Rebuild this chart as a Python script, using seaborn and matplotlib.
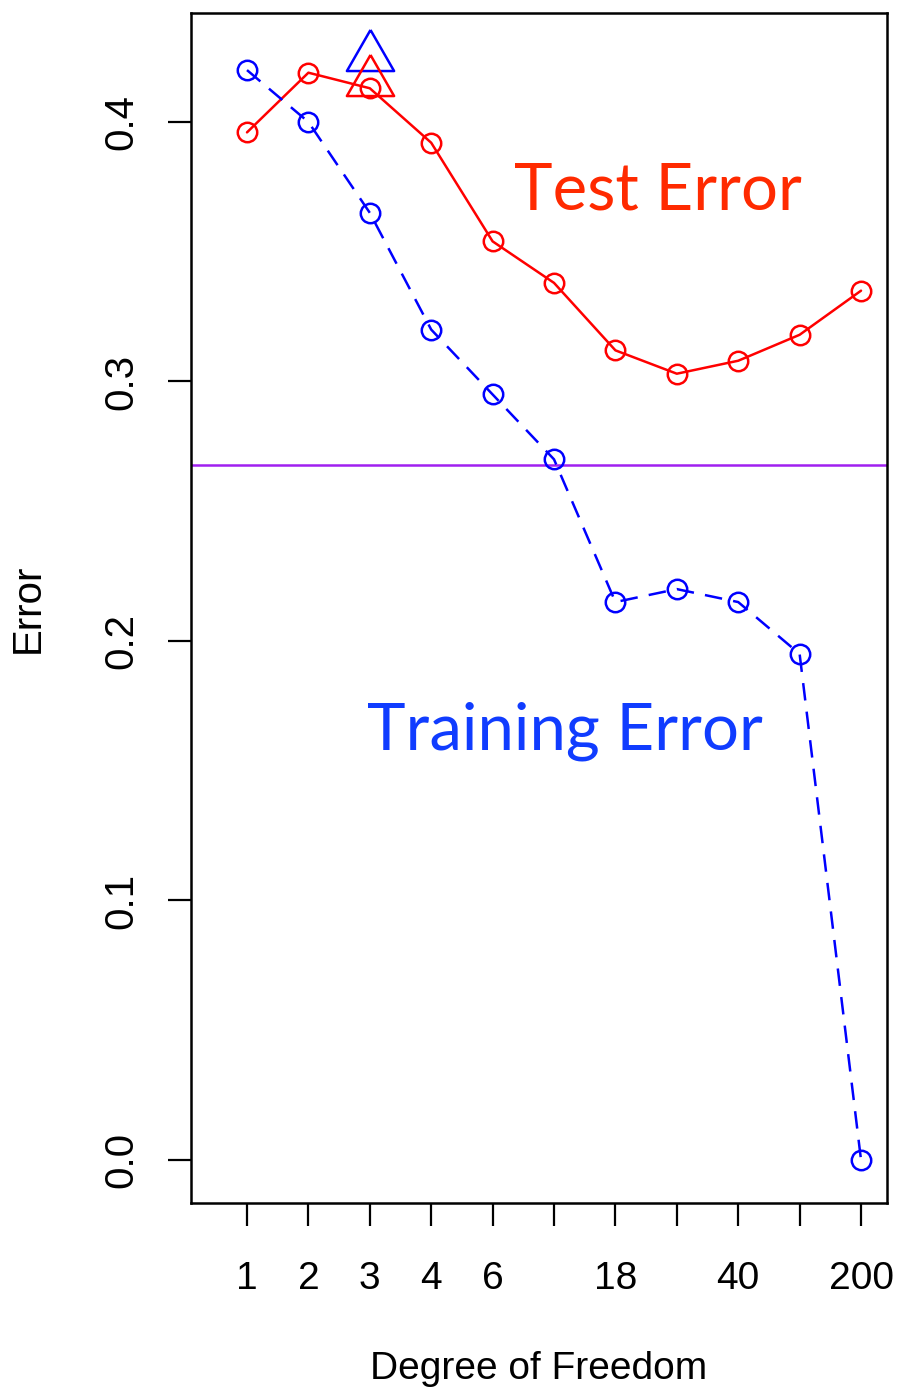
import numpy as np
import pandas as pd
import matplotlib
matplotlib.use("Agg")
import matplotlib.pyplot as plt
import seaborn as sns

# ---- data ----
positions = [1, 2, 3, 4, 5, 6, 7, 8, 9, 10, 11]
tick_labels = ["1", "2", "3", "4", "6", "", "18", "", "40", "", "200"]
test_error = [0.396, 0.419, 0.413, 0.392, 0.354, 0.338, 0.312, 0.303, 0.308, 0.318, 0.335]
train_error = [0.420, 0.400, 0.365, 0.320, 0.295, 0.270, 0.215, 0.220, 0.215, 0.195, 0.000]
best_pos = 3
best_train_marker = 0.4277
best_test_marker = 0.418
hline_value = 0.268
y_ticks = [0.0, 0.1, 0.2, 0.3, 0.4]

df = pd.DataFrame({"pos": positions, "test": test_error, "train": train_error})

sns.set_style("white")
plt.rcParams["font.family"] = ["Liberation Sans", "DejaVu Sans"]
plt.rcParams["text.color"] = "black"
plt.rcParams["axes.labelcolor"] = "black"
plt.rcParams["xtick.color"] = "black"
plt.rcParams["ytick.color"] = "black"

fig = plt.figure(figsize=(8.99, 13.90), dpi=100)
ax = fig.add_axes([191 / 899, 1 - 1203 / 1390, (887 - 191) / 899, (1203 - 13) / 1390])

ax.axhline(hline_value, color="#A020F0", lw=1.8, zorder=1)

sns.lineplot(data=df, x="pos", y="test", ax=ax, color="red", lw=1.8,
             marker="o", markersize=14, markerfacecolor="none",
             markeredgecolor="red", markeredgewidth=1.8, zorder=3)
sns.lineplot(data=df, x="pos", y="train", ax=ax, color="blue", lw=1.8,
             linestyle=(0, (7, 4.5)),
             marker="o", markersize=14, markerfacecolor="none",
             markeredgecolor="blue", markeredgewidth=1.8, zorder=3)

tri = [(0, 0.87), (-1, -0.87), (1, -0.87), (0, 0.87)]
ax.plot([best_pos], [best_train_marker], marker=tri, markersize=34,
        markerfacecolor="none", markeredgecolor="blue", markeredgewidth=1.8,
        linestyle="none", zorder=4)
ax.plot([best_pos], [best_test_marker], marker=tri, markersize=34,
        markerfacecolor="none", markeredgecolor="red", markeredgewidth=1.8,
        linestyle="none", zorder=4)

ax.text(7.70, 0.3661, "Test Error", color="#FF2A00", fontsize=47,
        family=["Lato", "DejaVu Sans"], ha="center", va="baseline")
ax.text(6.18, 0.1580, "Training Error", color="#103CFF", fontsize=47,
        family=["Lato", "DejaVu Sans"], ha="center", va="baseline")

ax.set_xlim(0.088, 11.423)
ax.set_ylim(-0.01657, 0.4420)
ax.set_xticks(positions)
ax.set_xticklabels(tick_labels, fontsize=28)
ax.set_yticks(y_ticks)
ax.set_yticklabels([f"{v:.1f}" for v in y_ticks], fontsize=29, rotation=90, va="center")

ax.tick_params(axis="both", direction="out", length=16.5, width=1.6,
               color="black", labelcolor="black", bottom=True, left=True)
ax.tick_params(axis="x", pad=25)
ax.tick_params(axis="y", pad=20)
for s in ax.spines.values():
    s.set_visible(True)
    s.set_color("black")
    s.set_linewidth(1.8)

ax.set_xlabel("Degree of Freedom", fontsize=28, labelpad=39, color="black")
ax.set_ylabel("Error", fontsize=29, labelpad=40, color="black")
ax.grid(False)

fig.savefig("out.png", dpi=100, facecolor="white")
